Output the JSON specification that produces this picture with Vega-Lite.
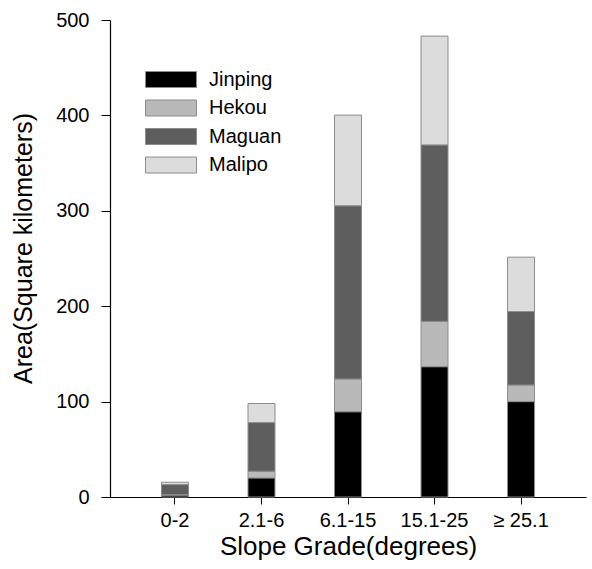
{
  "$schema": "https://vega.github.io/schema/vega-lite/v6.json",
  "width": 476,
  "height": 477,
  "autosize": {"type": "none"},
  "padding": {"left": 110, "top": 20, "right": 6, "bottom": 72},
  "background": "white",
  "config": {
    "font": "Liberation Sans",
    "view": {"stroke": null}
  },
  "data": {
    "values": [
      {"grade": "0-2", "county": "Jinping", "o": 1, "area": 2},
      {"grade": "0-2", "county": "Hekou", "o": 2, "area": 0.5},
      {"grade": "0-2", "county": "Maguan", "o": 3, "area": 10.5},
      {"grade": "0-2", "county": "Malipo", "o": 4, "area": 2.5},
      {"grade": "2.1-6", "county": "Jinping", "o": 1, "area": 20},
      {"grade": "2.1-6", "county": "Hekou", "o": 2, "area": 7},
      {"grade": "2.1-6", "county": "Maguan", "o": 3, "area": 51},
      {"grade": "2.1-6", "county": "Malipo", "o": 4, "area": 20},
      {"grade": "6.1-15", "county": "Jinping", "o": 1, "area": 89.4},
      {"grade": "6.1-15", "county": "Hekou", "o": 2, "area": 34.3},
      {"grade": "6.1-15", "county": "Maguan", "o": 3, "area": 181.6},
      {"grade": "6.1-15", "county": "Malipo", "o": 4, "area": 95},
      {"grade": "15.1-25", "county": "Jinping", "o": 1, "area": 136.6},
      {"grade": "15.1-25", "county": "Hekou", "o": 2, "area": 47.5},
      {"grade": "15.1-25", "county": "Maguan", "o": 3, "area": 185},
      {"grade": "15.1-25", "county": "Malipo", "o": 4, "area": 114},
      {"grade": "≥ 25.1", "county": "Jinping", "o": 1, "area": 100},
      {"grade": "≥ 25.1", "county": "Hekou", "o": 2, "area": 17.4},
      {"grade": "≥ 25.1", "county": "Maguan", "o": 3, "area": 77},
      {"grade": "≥ 25.1", "county": "Malipo", "o": 4, "area": 57}
    ]
  },
  "mark": {"type": "bar", "stroke": "#8c8c8c", "strokeWidth": 1},
  "encoding": {
    "x": {
      "field": "grade",
      "type": "nominal",
      "sort": ["0-2", "2.1-6", "6.1-15", "15.1-25", "≥ 25.1"],
      "scale": {"paddingInner": 0.688, "paddingOuter": 0.595},
      "axis": {
        "title": "Slope Grade(degrees)",
        "titleFontSize": 26,
        "titleFontWeight": "normal",
        "titleColor": "black",
        "titlePadding": 3,
        "labelFontSize": 20,
        "labelColor": "black",
        "labelAngle": 0,
        "labelPadding": 6,
        "tickSize": 7,
        "tickColor": "black",
        "domainColor": "black",
        "domainWidth": 1.2,
        "grid": false
      }
    },
    "y": {
      "field": "area",
      "type": "quantitative",
      "stack": "zero",
      "scale": {"domain": [0, 500], "nice": false},
      "axis": {
        "title": "Area(Square kilometers)",
        "titleFontSize": 25,
        "titleFontWeight": "normal",
        "titleColor": "black",
        "titlePadding": 19,
        "titleY": 228,
        "values": [0, 100, 200, 300, 400, 500],
        "labelFontSize": 20,
        "labelColor": "black",
        "labelPadding": 12,
        "tickSize": 9,
        "tickColor": "black",
        "domainColor": "black",
        "domainWidth": 1.2,
        "grid": false
      }
    },
    "order": {"field": "o", "type": "quantitative", "sort": "ascending"},
    "color": {
      "field": "county",
      "type": "nominal",
      "scale": {
        "domain": ["Jinping", "Hekou", "Maguan", "Malipo"],
        "range": ["#000000", "#b9b9b9", "#5e5e5e", "#dcdcdc"]
      },
      "legend": {
        "title": null,
        "orient": "none",
        "legendX": 35,
        "legendY": 49,
        "symbolType": "M-1,-0.8H4.1V0.8H-1Z",
        "symbolSize": 400,
        "symbolStrokeColor": "#8c8c8c",
        "symbolStrokeWidth": 1,
        "symbolOpacity": 1,
        "labelFontSize": 20,
        "labelColor": "black",
        "labelOffset": 43,
        "rowPadding": 7.5
      }
    }
  }
}
